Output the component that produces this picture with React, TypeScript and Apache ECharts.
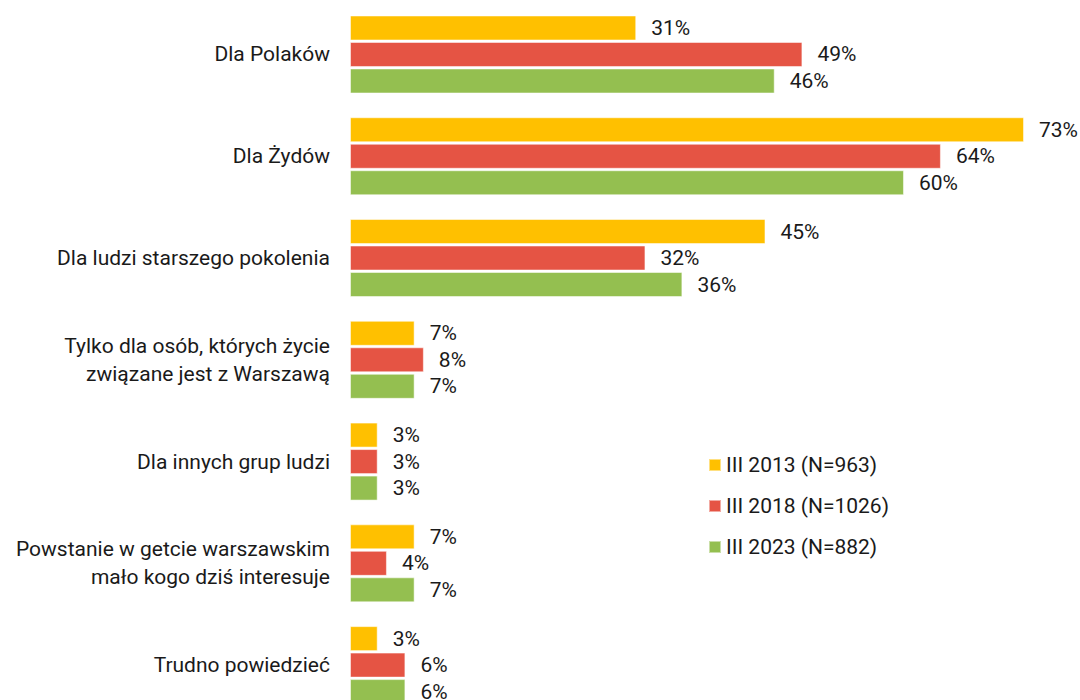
import React, { useEffect, useRef } from "react";
import * as echarts from "echarts";

const categories = [
  "Dla Polaków",
  "Dla Żydów",
  "Dla ludzi starszego pokolenia",
  "Tylko dla osób, których życie\nzwiązane jest z Warszawą",
  "Dla innych grup ludzi",
  "Powstanie w getcie warszawskim\nmało kogo dziś interesuje",
  "Trudno powiedzieć",
];
const seriesNames = ["III 2013 (N=963)", "III 2018 (N=1026)", "III 2023 (N=882)"];
const values2013 = [31, 73, 45, 7, 3, 7, 3];
const values2018 = [49, 64, 32, 8, 3, 4, 6];
const values2023 = [46, 60, 36, 7, 3, 7, 6];
const colors = ["#FFC000", "#E55444", "#94BF50"];

export default function App() {
  const ref = useRef<HTMLDivElement>(null);
  useEffect(() => {
    document.body.style.margin = "0";
    document.body.style.overflow = "hidden";
    document.documentElement.style.overflow = "hidden";
    const chart = echarts.init(ref.current!, null, { renderer: "svg" });
    const font = "Roboto, 'Noto Sans', sans-serif";
    const data = [values2013, values2018, values2023];
    chart.setOption({
      animation: false,
      textStyle: { fontFamily: font },
      grid: { left: 350, right: 56, top: 3.6, bottom: 0 },
      legend: {
        orient: "vertical",
        left: 703,
        top: 449.5,
        itemWidth: 12,
        itemHeight: 12,
        itemGap: 20,
        icon: "rect",
        textStyle: { fontSize: 21, color: "#1a1a1a", fontFamily: font, lineHeight: 21 },
        data: seriesNames,
      },
      xAxis: {
        type: "value",
        min: 0,
        max: 73,
        show: false,
      },
      yAxis: {
        type: "category",
        inverse: true,
        data: categories,
        axisLine: { show: false },
        axisTick: { show: false },
        axisLabel: {
          fontSize: 21,
          color: "#1a1a1a",
          fontFamily: font,
          margin: 20,
          lineHeight: 28,
          align: "right",
        },
      },
      series: seriesNames.map((name, i) => ({
        name,
        type: "bar",
        data: data[i],
        barWidth: 25,
        barGap: "6%",
        itemStyle: { color: colors[i], borderColor: "rgba(255,255,255,0.5)", borderWidth: 1 },
        label: {
          show: true,
          position: "right",
          distance: 15,
          formatter: "{c}%",
          fontSize: 21,
          color: "#1a1a1a",
          fontFamily: font,
        },
      })),
    });
    return () => chart.dispose();
  }, []);
  return <div ref={ref} style={{ width: 1080, height: 716 }} />;
}
